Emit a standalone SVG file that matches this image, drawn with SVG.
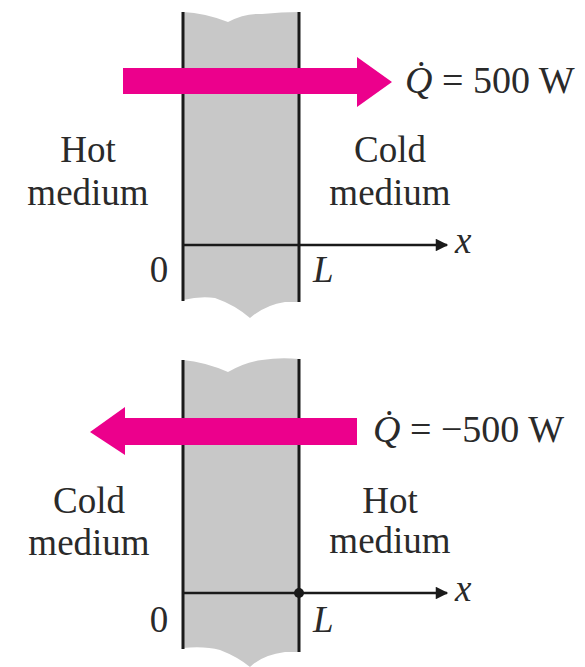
<svg xmlns="http://www.w3.org/2000/svg" width="585" height="667" viewBox="0 0 585 667">
<style>
.wall{fill:#c8c8c8;stroke:none}
.edge{stroke:#1a1a1a;stroke-width:3;fill:none}
.axis{stroke:#1a1a1a;stroke-width:2.5;fill:none}
.heat{fill:#ec008c}
.t{font-family:"Liberation Serif","Times New Roman",serif;font-size:37px;fill:#2a2a2a}
.q{font-size:38px}
.i{font-style:italic}
</style>
<defs>
<marker id="ah" viewBox="0 0 10 10" refX="9" refY="5" markerWidth="6" markerHeight="5" markerUnits="strokeWidth" orient="auto">
<path d="M0,0 L10,5 L0,10 Z" fill="#1a1a1a"/>
</marker>
</defs>
<g id="wall-top">
<path class="wall" d="M183,12 Q205,13 228,22 Q245,13 262,14 Q282,12 299,12 L299,302 L285,302 Q265,305 250,318 Q235,305 215,298 Q200,296 183,300 Z"/>
<line class="edge" x1="183" y1="12" x2="183" y2="301"/>
<line class="edge" x1="299" y1="12" x2="299" y2="302"/>
</g>
<g id="wall-bottom">
<path class="wall" d="M183,360 Q205,362 228,372 Q245,362 262,360 Q280,357 299,359 L299,652 L285,652 Q262,655 250,667 Q238,657 220,650 Q205,646 183,648 Z"/>
<line class="edge" x1="183" y1="360" x2="183" y2="649"/>
<line class="edge" x1="299" y1="359" x2="299" y2="652"/>
</g>
<g id="connectors">
<line class="axis" x1="183" y1="245" x2="447" y2="245" marker-end="url(#ah)"/>
<line class="axis" x1="183" y1="593" x2="447" y2="593" marker-end="url(#ah)"/>
<circle cx="299" cy="593" r="5" fill="#1a1a1a"/>
</g>
<g id="heat-top">
<path class="heat" d="M123,68 L357,68 L357,57 L392,82 L357,107 L357,94 L123,94 Z"/>
<text class="t q" x="405" y="93"><tspan class="i">Q̇</tspan> = 500 W</text>
</g>
<g id="heat-bottom">
<path class="heat" d="M357,418 L125,418 L125,407 L90,432 L125,455 L125,445 L357,445 Z"/>
<text class="t q" x="373" y="442"><tspan class="i">Q̇</tspan> = −500 W</text>
</g>
<g id="labels-top">
<text class="t" x="88" y="162" text-anchor="middle">Hot</text>
<text class="t" x="88" y="205" text-anchor="middle">medium</text>
<text class="t" x="390" y="162" text-anchor="middle">Cold</text>
<text class="t" x="390" y="205" text-anchor="middle">medium</text>
<text class="t" x="159" y="282" text-anchor="middle">0</text>
<text class="t i" x="313" y="282">L</text>
<text class="t i" x="455" y="253">x</text>
</g>
<g id="labels-bottom">
<text class="t" x="89" y="513" text-anchor="middle">Cold</text>
<text class="t" x="89" y="555" text-anchor="middle">medium</text>
<text class="t" x="390" y="513" text-anchor="middle">Hot</text>
<text class="t" x="390" y="553" text-anchor="middle">medium</text>
<text class="t" x="159" y="632" text-anchor="middle">0</text>
<text class="t i" x="313" y="632">L</text>
<text class="t i" x="455" y="601">x</text>
</g>
</svg>
